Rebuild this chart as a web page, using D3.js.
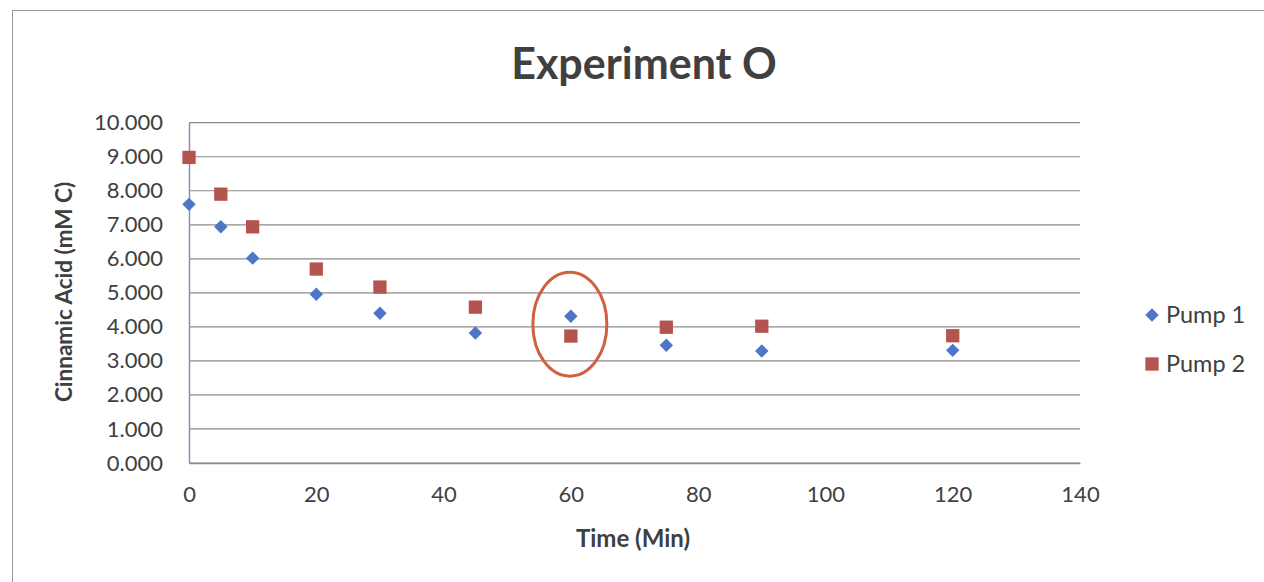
<!DOCTYPE html>
<html><head><meta charset="utf-8">
<script src="https://cdn.jsdelivr.net/npm/d3@7"></script>
<style>
html,body{margin:0;padding:0;background:#fff;}
text{font-family:Lato,"Open Sans",sans-serif;fill:#404040;}
</style></head>
<body><svg id="c" width="1264" height="582"></svg>
<script>
const times = [0, 5, 10, 20, 30, 45, 60, 75, 90, 120];
const pump1 = [7.60, 6.94, 6.02, 4.96, 4.40, 3.82, 4.31, 3.46, 3.29, 3.31];
const pump2 = [8.98, 7.90, 6.94, 5.70, 5.17, 4.58, 3.73, 3.99, 4.02, 3.74];
const seriesNames = ["Pump 1", "Pump 2"];
const xTicks = [0, 20, 40, 60, 80, 100, 120, 140];
const yTicks = [0, 1, 2, 3, 4, 5, 6, 7, 8, 9, 10];
const highlight = {time: 60, value: 4.02};

const svg = d3.select("#c");
svg.append("rect").attr("x", 12.5).attr("y", 10.5).attr("width", 1260).attr("height", 600)
  .attr("fill", "#fff").attr("stroke", "#9a9a9a").attr("stroke-width", 1);

const x = d3.scaleLinear().domain([0, 140]).range([189, 1080]);
const y = d3.scaleLinear().domain([0, 10]).range([463, 122.7]);

// gridlines
svg.append("g").selectAll("line").data(yTicks).join("line")
  .attr("x1", x(0)).attr("x2", x(140))
  .attr("y1", d => y(d)).attr("y2", d => y(d))
  .attr("stroke", "#8c8c8c").attr("stroke-width", 1.2);

// axes
const yAxis = svg.append("g").attr("transform", `translate(${x(0)},0)`)
  .call(d3.axisLeft(y).tickValues(yTicks).tickFormat(d3.format(".3f")).tickSize(0).tickPadding(26));
yAxis.select(".domain").attr("stroke", "#8a8fb0").attr("stroke-width", 1.5);
yAxis.selectAll("text").style("font-size", "22px").style("fill", "#404040");

const xAxis = svg.append("g").attr("transform", `translate(0,${y(0)})`)
  .call(d3.axisBottom(x).tickValues(xTicks).tickSize(0).tickPadding(23));
xAxis.select(".domain").attr("stroke", "#8c8c8c").attr("stroke-width", 1.5);
xAxis.selectAll("text").style("font-size", "22px").style("fill", "#404040");

// titles
svg.append("text").attr("x", 644).attr("y", 79).attr("text-anchor", "middle")
  .style("font-size", "43px").style("font-weight", "bold").text("Experiment O");
svg.append("text").attr("x", 633).attr("y", 547).attr("text-anchor", "middle")
  .style("font-size", "24px").style("font-weight", "bold").text("Time (Min)");
svg.append("text").attr("transform", "translate(72,292) rotate(-90)").attr("text-anchor", "middle")
  .style("font-size", "22.5px").style("font-weight", "bold").text("Cinnamic Acid (mM C)");

const blue = "#4f75c8", red = "#b5544f";
const diamond = d3.symbol().type(d3.symbolDiamond2).size(115);
const square = d3.symbol().type(d3.symbolSquare2).size(225);

svg.append("g").selectAll("path").data(times.map((t, i) => [t, pump2[i]])).join("path")
  .attr("d", square).attr("transform", d => `translate(${x(d[0])},${y(d[1])})`).attr("fill", red);
svg.append("g").selectAll("path").data(times.map((t, i) => [t, pump1[i]])).join("path")
  .attr("d", diamond).attr("transform", d => `translate(${x(d[0])},${y(d[1])})`).attr("fill", blue);

// annotation ellipse
svg.append("ellipse").attr("cx", x(highlight.time) - 1).attr("cy", y(highlight.value) - 2)
  .attr("rx", 37).attr("ry", 52).attr("fill", "none").attr("stroke", "#d0603e").attr("stroke-width", 3);

// legend
const lg = svg.append("g");
seriesNames.forEach((n, i) => {
  const ly = 315 + i * 49;
  lg.append("path").attr("d", i === 0 ? diamond : square)
    .attr("transform", `translate(1152,${ly})`).attr("fill", i === 0 ? blue : red);
  lg.append("text").attr("x", 1166).attr("y", ly + 8).style("font-size", "23.5px").text(n);
});
</script></body></html>
